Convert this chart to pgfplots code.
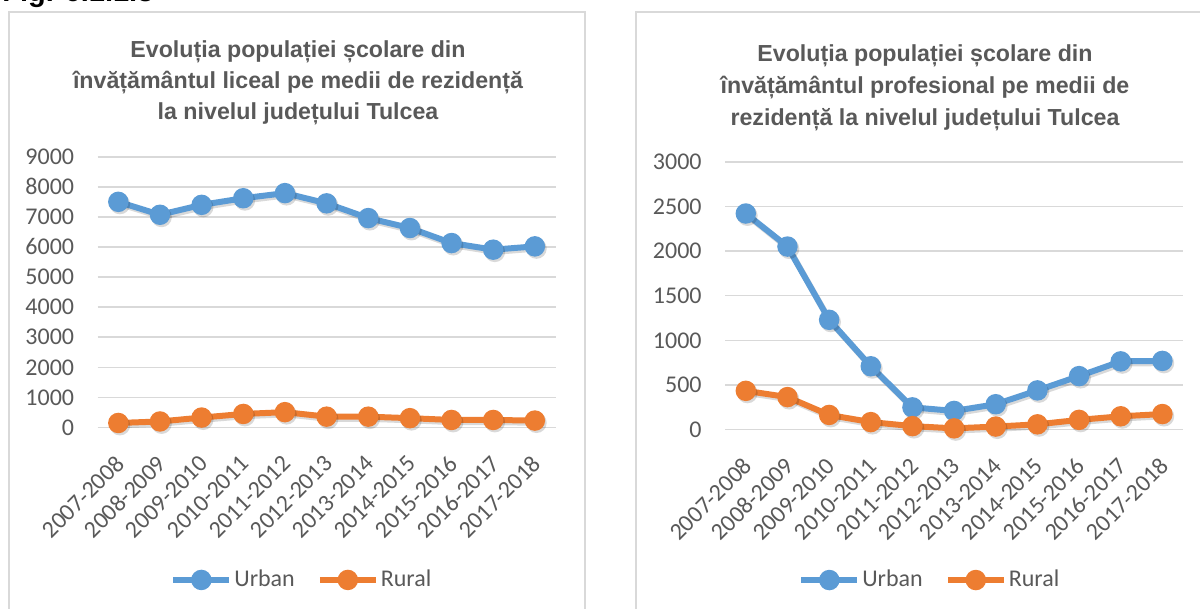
\documentclass[border=0pt]{standalone}
\usepackage{fontspec}
\setmainfont{Carlito}
\newfontfamily\titlefont{Liberation Sans}
\usepackage{pgfplots}
\pgfplotsset{compat=1.18}
\definecolor{ublue}{HTML}{5B9BD5}
\definecolor{rorange}{HTML}{ED7D31}
\definecolor{txt}{HTML}{595959}
\definecolor{gridc}{HTML}{D9D9D9}

\pgfplotstableread{
x urban rural
0 7500 150
1 7070 200
2 7400 330
3 7620 450
4 7790 510
5 7450 360
6 6960 360
7 6630 310
8 6130 250
9 5910 250
10 6020 230
}\liceal

\pgfplotstableread{
x urban rural
0 2420 435
1 2050 365
2 1230 165
3 710 85
4 250 40
5 210 15
6 285 35
7 440 60
8 600 110
9 765 150
10 770 175
}\profesional

\pgfplotsset{
  panel/.style={
    scale only axis, width=229.1pt,
    xmin=-0.5, xmax=10.5, ymin=0,
    axis line style={draw=none}, major tick style={draw=none},
    ymajorgrids, major grid style={gridc, line width=0.8pt},
    xtick={0,...,10},
    xticklabels={2007-2008,2008-2009,2009-2010,2010-2011,2011-2012,2012-2013,2013-2014,2014-2015,2015-2016,2016-2017,2017-2018},
    /pgf/number format/assume math mode=true,
    /pgf/number format/1000 sep={},
    ticklabel style={font=\fontsize{12}{14}\selectfont, text=txt},
    yticklabel style={inner sep=0pt, xshift=-11.5pt},
    xticklabel style={inner sep=0pt, xshift=1pt, yshift=-16pt, rotate=45, anchor=east},
    clip=false,
    legend columns=2,
    legend style={draw=none, fill=none, anchor=center, font=\fontsize{12}{14}\selectfont, text=txt,
      inner xsep=0pt, inner ysep=0pt, nodes={inner sep=1pt},
      /tikz/every even column/.append style={column sep=10pt}},
    legend image code/.code={\draw[#1, mark=none] (0pt,0pt) -- (28pt,0pt); \fill[#1] (14pt,0pt) circle (3.6pt);},
  },
  ser/.style={color=#1, line width=3pt, mark=*, mark size=3.6pt, mark options={solid}},
  shd/.style={forget plot, black, opacity=0.15, line width=3pt, mark=*, mark size=3.6pt, xshift=0.8pt, yshift=-1.1pt},
}

\begin{document}
\begin{tikzpicture}
\useasboundingbox (0,0) rectangle (600pt,304.5pt);
\clip (0,0) rectangle (600pt,304.5pt);
% panel borders
\draw[gridc, line width=1pt] (4.5pt,-5pt) rectangle (292.5pt,298.5pt);
\draw[gridc, line width=1pt] (318pt,-5pt) rectangle (610pt,298.5pt);
% figure caption (cut at top)
\node[anchor=base west, font=\titlefont\bfseries\fontsize{14.5}{16}\selectfont, inner sep=0pt] at (1pt,303.5pt) {Fig. 6.1.1.3};
% titles
\node[align=center, text=txt, font=\titlefont\bfseries\fontsize{11.6}{15.6}\selectfont] at (149pt,263pt)
  {Evoluția populației școlare din\\învățământul liceal pe medii de rezidență\\la nivelul județului Tulcea};
\node[align=center, text=txt, font=\titlefont\bfseries\fontsize{11.6}{15.9}\selectfont] at (462.5pt,260.5pt)
  {Evoluția populației școlare din\\învățământul profesional pe medii de\\rezidență la nivelul județului Tulcea};

\begin{axis}[panel, at={(48.75pt,90.75pt)}, anchor=south west, height=135.4pt,
  ymax=9000, ytick={0,1000,...,9000}, legend style={at={(0.446,-0.563)}}]
\addplot[shd] table[x=x,y=urban]{\liceal};
\addplot[ser=ublue] table[x=x,y=urban]{\liceal};
\addlegendentry{Urban}
\addplot[shd] table[x=x,y=rural]{\liceal};
\addplot[ser=rorange] table[x=x,y=rural]{\liceal};
\addlegendentry{Rural}
\end{axis}

\begin{axis}[panel, at={(362.5pt,89.65pt)}, anchor=south west, height=134pt,
  ymax=3000, ytick={0,500,...,3000}, legend style={at={(0.447,-0.561)}}]
\addplot[shd] table[x=x,y=urban]{\profesional};
\addplot[ser=ublue] table[x=x,y=urban]{\profesional};
\addlegendentry{Urban}
\addplot[shd] table[x=x,y=rural]{\profesional};
\addplot[ser=rorange] table[x=x,y=rural]{\profesional};
\addlegendentry{Rural}
\end{axis}
\end{tikzpicture}
\end{document}
